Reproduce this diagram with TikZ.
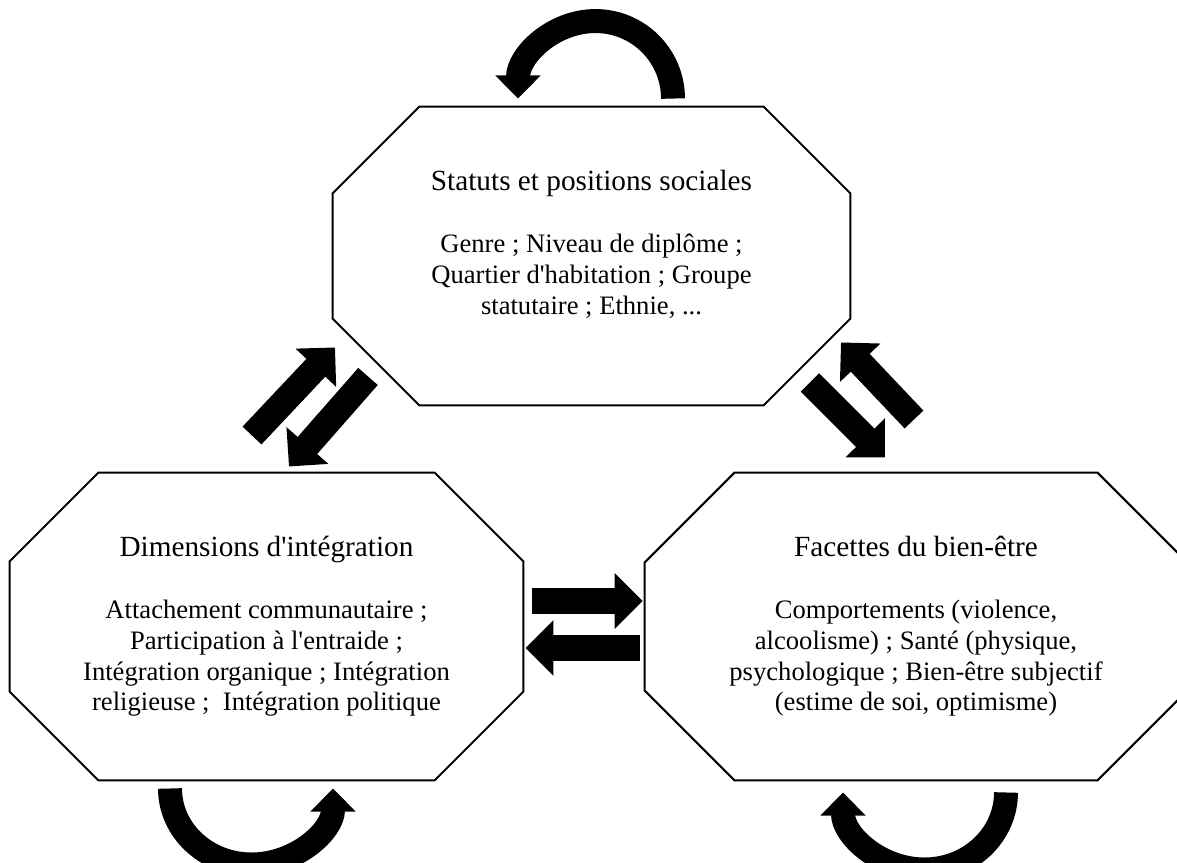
\documentclass[tikz,border=0pt]{standalone}
\usepackage{amsmath}
\usepackage{fontspec}
\setmainfont{Liberation Serif}[Ligatures=TeXOff]
\usepackage{tikz}
\usetikzlibrary{positioning}
\usetikzlibrary{arrows.meta}

\tikzset{
octobox/.style={rectangle, align=center, inner sep=0pt, font=\fontsize{12}{13.8}\selectfont},
octoline/.style={line width=0.9pt},
fatarrow/.style={line width=11.7pt, -{Triangle[width=24.4pt,length=12.6pt]}},
looparrow/.style={line width=10.8pt, -{Triangle[width=19.8pt,length=10.4pt]}}
}

\newcommand{\boxtitle}[1]{{\fontsize{13.2}{15}\selectfont #1}\\[14.2pt]}

% octagon round a box: #1 node name, #2 size of the cut corners
\newcommand{\octoframe}[2]{%
\draw[octoline] ([xshift=#2]#1.north west) -- ([xshift=-#2]#1.north east) -- ([yshift=-#2]#1.north east)
 -- ([yshift=#2]#1.south east) -- ([xshift=-#2]#1.south east) -- ([xshift=#2]#1.south west)
 -- ([yshift=#2]#1.south west) -- ([yshift=-#2]#1.north west) -- cycle;}

\begin{document}
\begin{tikzpicture}[x=0.451pt, y=-0.451pt]

\useasboundingbox (0,0) rectangle (1177,863);

% the three boxes
\node[octobox, minimum width=233.2pt, minimum height=134.4pt] (statuts) at (591.5,256)
{\boxtitle{Statuts et positions sociales}
Genre ; Niveau de diplôme ;\\
Quartier d'habitation ; Groupe\\
statutaire ; Ethnie, ...\\[-1.5pt]\mbox{}};

\node[octobox, minimum width=231.4pt, minimum height=138.5pt] (integration) at (266.5,626.5)
{\boxtitle{Dimensions d'intégration}
Attachement communautaire ;\\
Participation à l'entraide ;\\
Intégration organique ; Intégration\\
religieuse ;~ Intégration politique};

\node[octobox, minimum width=244.4pt, minimum height=138.5pt] (bienetre) at (916,626.5)
{\boxtitle{Facettes du bien-être}
Comportements (violence,\\
alcoolisme) ; Santé (physique,\\
psychologique ; Bien-être subjectif\\
(estime de soi, optimisme)};

\octoframe{statuts}{39.2pt}
\octoframe{integration}{40.1pt}
\octoframe{bienetre}{40.6pt}


% arrows between the boxes
\draw[fatarrow] ([shift={(-14.5,-37)}]integration.north) -- ([shift={(-256.5,-58)}]statuts.south);
\draw[fatarrow] ([shift={(-223.5,-29)}]statuts.south) -- ([shift={(22.5,-6)}]integration.north);

\draw[fatarrow] ([shift={(218.5,-23)}]statuts.south) -- ([shift={(-31,-15)}]bienetre.north);
\draw[fatarrow] ([shift={(-2,-53)}]bienetre.north) -- ([shift={(249.5,-63)}]statuts.south);

\draw[fatarrow] ([shift={(9,-25.5)}]integration.east) -- ([shift={(-2,-25.5)}]bienetre.west);
\draw[fatarrow] ([shift={(-5,21.5)}]bienetre.west) -- ([shift={(2,21.5)}]integration.east);


% loops
\draw[looparrow] ([shift={(81.5,-8)}]statuts.north) arc[start angle=0, end angle=-180, radius=77.5];
\draw[looparrow] ([shift={(-96.5,8)}]integration.south) arc[start angle=180, end angle=0, x radius=81.5, y radius=76];
\draw[looparrow] ([shift={(90,12)}]bienetre.south) arc[start angle=0, end angle=180, x radius=81.5, y radius=77];

\end{tikzpicture}
\end{document}
